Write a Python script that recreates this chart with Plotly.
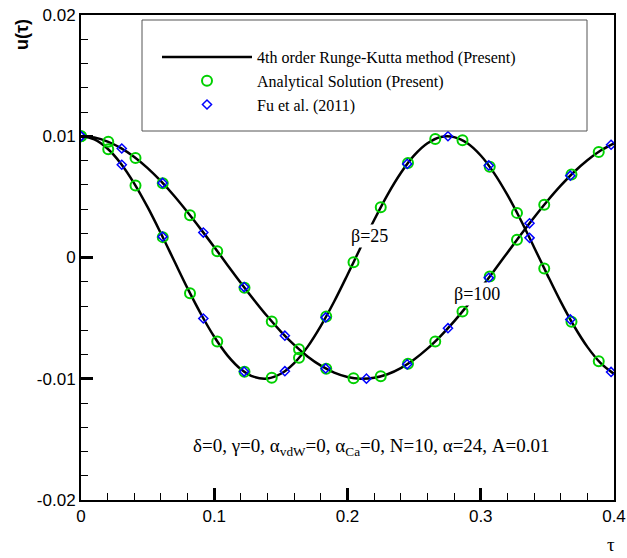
import plotly.graph_objects as go

# ---- data ----
tau_line = [0.00, 0.01, 0.02, 0.03, 0.04, 0.05, 0.06, 0.07, 0.08, 0.09,
            0.10, 0.11, 0.12, 0.13, 0.14, 0.15, 0.16, 0.17, 0.18, 0.19,
            0.20, 0.21, 0.22, 0.23, 0.24, 0.25, 0.26, 0.27, 0.28, 0.29,
            0.30, 0.31, 0.32, 0.33, 0.34, 0.35, 0.36, 0.37, 0.38, 0.39, 0.40]
rk_beta25 = [0.01000, 0.00974, 0.00897, 0.00774, 0.00610, 0.00415, 0.00198, -0.00029, -0.00255, -0.00466,
             -0.00654, -0.00809, -0.00921, -0.00985, -0.00998, -0.00959, -0.00871, -0.00737, -0.00564, -0.00363,
             -0.00142, 0.00086, 0.00309, 0.00517, 0.00697, 0.00842, 0.00942, 0.00994, 0.00993, 0.00942,
             0.00841, 0.00696, 0.00516, 0.00309, 0.00085, -0.00143, -0.00364, -0.00565, -0.00737, -0.00871, -0.00960]
rk_beta100 = [0.01000, 0.00989, 0.00956, 0.00902, 0.00829, 0.00737, 0.00629, 0.00507, 0.00373, 0.00232,
              0.00086, -0.00063, -0.00210, -0.00352, -0.00487, -0.00611, -0.00721, -0.00816, -0.00892, -0.00949,
              -0.00985, -0.01000, -0.00992, -0.00963, -0.00912, -0.00841, -0.00752, -0.00646, -0.00527, -0.00395,
              -0.00255, -0.00109, 0.00040, 0.00187, 0.00330, 0.00466, 0.00592, 0.00705, 0.00802, 0.00882, 0.00942]

tau_analytic = [0.0, 0.02045, 0.0409, 0.06135, 0.0818, 0.10225, 0.1227, 0.14315, 0.1636, 0.18405,
                0.2045, 0.22495, 0.2454, 0.26585, 0.2863, 0.30675, 0.3272, 0.34765, 0.3681, 0.38855]
an_beta25 = [0.01000, 0.00893, 0.00594, 0.00168, -0.00294, -0.00693, -0.00943, -0.00992, -0.00827, -0.00486,
             -0.00040, 0.00415, 0.00780, 0.00978, 0.00967, 0.00748, 0.00368, -0.00090, -0.00529, -0.00855]
an_beta100 = [0.01000, 0.00954, 0.00821, 0.00613, 0.00348, 0.00052, -0.00249, -0.00527, -0.00757, -0.00918,
              -0.00995, -0.00980, -0.00876, -0.00692, -0.00445, -0.00157, 0.00146, 0.00435, 0.00685, 0.00871]

tau_fu = [0.0, 0.0306, 0.0612, 0.0918, 0.1224, 0.1530, 0.1836, 0.2142, 0.2448, 0.2754, 0.3060, 0.3366, 0.3672, 0.3978]
fu_beta25 = [0.01000, 0.00765, 0.00172, -0.00503, -0.00941, -0.00938, -0.00494, 0.00181, 0.00772, 0.01000,
             0.00759, 0.00162, -0.00511, -0.00944]
fu_beta100 = [0.01000, 0.00899, 0.00615, 0.00206, -0.00244, -0.00645, -0.00915, -0.00999, -0.00881, -0.00583,
              -0.00168, 0.00282, 0.00675, 0.00930]

x_ticks = [0, 0.1, 0.2, 0.3, 0.4]
x_ticktext = ["0", "0.1", "0.2", "0.3", "0.4"]
y_ticks = [-0.02, -0.01, 0, 0.01, 0.02]
y_ticktext = ["-0.02", "-0.01", "0", "0.01", "0.02"]

SERIF = "Liberation Serif, Times New Roman, serif"
SANS = "Liberation Sans, Arial, sans-serif"
GREEN = "#00d000"
BLUE = "#0000ff"

W, H = 627, 558
L, T, R, B = 81, 15, 13, 58
pw, ph = W - L - R, H - T - B


def px(xp):
    return (xp - L) / pw


def py(yp):
    return (H - B - yp) / ph


fig = go.Figure()
for i, ys in enumerate([rk_beta25, rk_beta100]):
    fig.add_trace(go.Scatter(x=tau_line, y=ys, mode="lines", line=dict(color="black", width=2.5, shape="spline"),
                             name="4th order Runge-Kutta method (Present)", legendgroup="rk", showlegend=(i == 0)))
for i, ys in enumerate([an_beta25, an_beta100]):
    fig.add_trace(go.Scatter(x=tau_analytic, y=ys, mode="markers",
                             marker=dict(symbol="circle-open", size=10, color=GREEN, line=dict(width=2, color=GREEN)),
                             name="Analytical Solution (Present)", legendgroup="an", showlegend=(i == 0)))
for i, ys in enumerate([fu_beta25, fu_beta100]):
    fig.add_trace(go.Scatter(x=tau_fu, y=ys, mode="markers",
                             marker=dict(symbol="diamond-open", size=7, color=BLUE, line=dict(width=1.5, color=BLUE)),
                             name="Fu et al. (2011)", legendgroup="fu", showlegend=(i == 0)))

axis_common = dict(showline=True, linecolor="black", linewidth=2, mirror=True, showgrid=False, zeroline=False,
                   ticks="inside", ticklen=12, tickwidth=3, tickcolor="black", automargin=False,
                   ticklabeloverflow="allow",
                   tickfont=dict(family=SANS, size=17, color="black"), tickmode="array")

fig.update_xaxes(range=[0, 0.4], tickvals=x_ticks, ticktext=x_ticktext,
                 minor=dict(ticks="inside", ticklen=7, tickwidth=1, tickcolor="black", dtick=0.02, tick0=0),
                 **axis_common)
fig.update_yaxes(range=[-0.02, 0.02], tickvals=y_ticks, ticktext=y_ticktext,
                 minor=dict(ticks="inside", ticklen=7, tickwidth=1, tickcolor="black", dtick=0.002, tick0=0),
                 **axis_common)

fig.add_shape(type="rect", xref="paper", yref="paper", x0=px(142), x1=px(587), y0=py(131), y1=py(20),
              line=dict(color="#555555", width=1), fillcolor="white", layer="above")

annotations = [
    dict(x=0.2163, y=0.00176, xref="x", yref="y", text="β=25", showarrow=False, bgcolor="white",
         font=dict(family=SERIF, size=18, color="black")),
    dict(x=0.2973, y=-0.00297, xref="x", yref="y", text="β=100", showarrow=False, bgcolor="white",
         font=dict(family=SERIF, size=18, color="black")),
    dict(x=0.2177, y=-0.01561, xref="x", yref="y",
         text="δ=0, γ=0, α<sub>vdW</sub>=0, α<sub>Ca</sub>=0, N=10, α=24, A=0.01", showarrow=False,
         font=dict(family=SERIF, size=19, color="black")),
    dict(x=px(22), y=py(35), xref="paper", yref="paper", text="<b>u(τ)</b>", showarrow=False, textangle=-90,
         font=dict(family=SANS, size=18, color="black")),
    dict(x=px(611), y=py(544), xref="paper", yref="paper", text="τ", showarrow=False,
         font=dict(family=SERIF, size=19, color="black")),
]
for a in annotations:
    a["xanchor"] = "center"
    a["yanchor"] = "middle"

fig.update_layout(
    template="none",
    width=W, height=H, margin=dict(l=L, r=R, t=T, b=B),
    plot_bgcolor="white", paper_bgcolor="white",
    annotations=annotations,
    legend=dict(x=px(157), y=py(40), xanchor="left", yanchor="top",
                bgcolor="rgba(0,0,0,0)", borderwidth=0, itemwidth=90, tracegroupgap=0,
                font=dict(family=SERIF, size=16, color="black")),
    showlegend=True,
)
# remove the browser's default page margin so the figure sits at the window's corner
fig.write_html("out.html", config={"displayModeBar": False},
               post_script="document.body.style.margin='0';document.body.style.overflow='hidden';")
